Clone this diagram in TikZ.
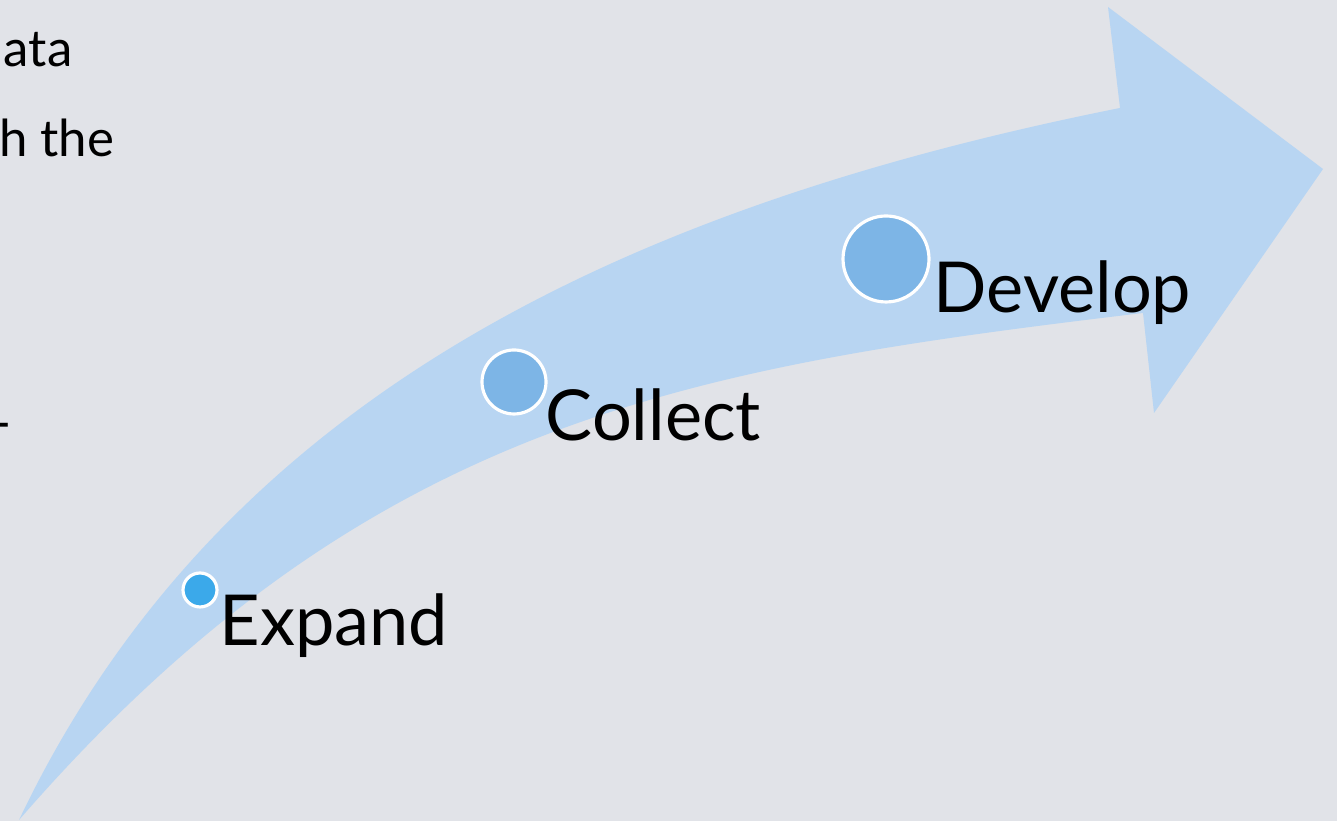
\documentclass[tikz,border=0pt]{standalone}
\usepackage{fontspec}
\setmainfont{Lato}
\usepackage{xcolor}
\usetikzlibrary{positioning}

\definecolor{slidebg}{RGB}{225,227,232}
\definecolor{arrowblue}{RGB}{184,213,242}
\definecolor{dotblue}{RGB}{59,169,234}
\definecolor{dotsoft}{RGB}{125,181,230}

\begin{document}
\begin{tikzpicture}[
    dot/.style={draw=white, line width=0.9pt, circle, inner sep=0pt},
    stage/.style={anchor=base west, inner sep=0pt, font=\fontsize{20}{24}\selectfont},
    bodytext/.style={anchor=base east, inner sep=0pt, font=\fontsize{14.5}{17}\selectfont}
  ]
  \fill[slidebg] (0,0) rectangle (13.37,8.21);
  \useasboundingbox (0,0) rectangle (13.37,8.21);
  \clip (0,0) rectangle (13.37,8.21);

  % text running in from the left
  \node[bodytext] (line1) at (0.73, 7.54) {ata};
  \node[bodytext] (line2) at (1.15, 6.64) {h the};
  \node[bodytext] (line3) at (0.12, 3.80) {-};

  % curved arrow
  \fill[arrowblue] (0.19,0.01)
    .. controls (2.19,4.21) and (6.20,6.13) .. (11.20,7.13)
    -- (11.08,8.14) -- (13.23,6.52) -- (11.54,4.08) -- (11.43,5.08)
    .. controls (6.93,4.54) and (3.69,4.04) .. (0.19,0.01)
    -- cycle;

  % stages
  \node[dot, fill=dotblue, minimum size=0.34cm] (expand) at (2.00, 2.31) {};
  \node[dot, fill=dotsoft, minimum size=0.64cm] (collect) at (5.14, 4.39) {};
  \node[dot, fill=dotsoft, minimum size=0.86cm] (develop) at (8.86, 5.62) {};

  \node[stage] (expandlabel) at (2.19, 1.75) {Expand};
  \node[stage] (collectlabel) at (5.45, 3.80) {Collect};
  \node[stage] (developlabel) at (9.33, 5.08) {Develop};
\end{tikzpicture}
\end{document}
